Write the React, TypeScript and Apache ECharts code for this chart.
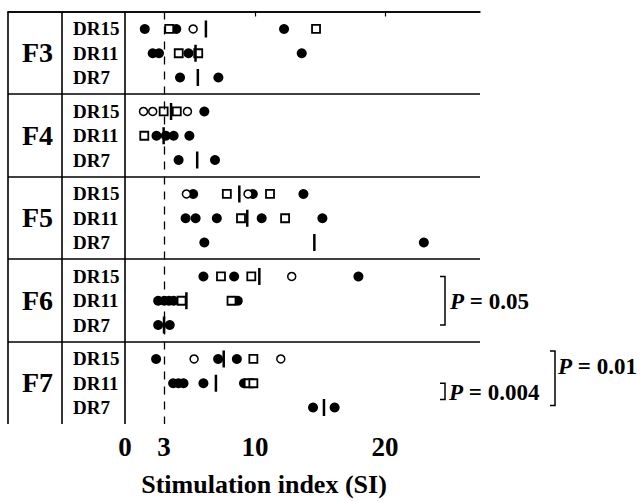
import React, { useEffect, useRef } from "react";
import * as echarts from "echarts";

const panels = ["F3", "F4", "F5", "F6", "F7"];
const rows = ["DR15", "DR11", "DR7"];
const tickLabels = [0, 3, 10, 20];
const minorTicks = [10, 20];
const threshold = 3;
const axisTitle = "Stimulation index (SI)";

// per panel: values for rows [DR15, DR11, DR7]
const filledCircles: Record<string, number[][]> = {
  F3: [[1.52, 3.94, 12.23], [2.13, 2.61, 4.88, 13.59], [4.23, 7.18]],
  F4: [[6.1], [2.42, 3.14, 3.74, 4.95], [4.12, 6.92]],
  F5: [[5.24, 9.83, 13.72], [4.66, 5.43, 7.06, 10.51, 15.18], [6.1, 22.98]],
  F6: [[6.03, 8.39, 17.95], [2.55, 3.02, 3.38, 3.74, 8.67], [2.55, 3.44]],
  F7: [[2.39, 7.16, 8.6], [3.7, 4.11, 4.5, 6.03, 9.15], [14.46, 16.12]],
};
const openSquares: Record<string, number[][]> = {
  F3: [[3.4, 14.69], [4.13, 5.63], []],
  F4: [[2.97, 3.98], [1.48], []],
  F5: [[7.83, 11.15], [8.92, 12.31], []],
  F6: [[7.38, 9.71], [4.35, 8.19], []],
  F7: [[9.87], [9.51, 9.87], []],
};
const openCircles: Record<string, number[][]> = {
  F3: [[5.24], [], []],
  F4: [[1.42, 2.13, 4.8], [], []],
  F5: [[4.72, 9.46], [], []],
  F6: [[12.82], [], []],
  F7: [[5.31, 11.98], [], []],
};
const medians: Record<string, number[]> = {
  F3: [6.22, 5.42, 5.6],
  F4: [3.54, 2.97, 5.55],
  F5: [8.79, 9.4, 14.56],
  F6: [10.33, 4.72, 3.0],
  F7: [7.59, 6.99, 15.3],
};
const pTests = [
  { panel: "F6", text: "0.05" },
  { panel: "F7", text: "0.004" },
  { panel: "F7", text: "0.01" },
];

const FONT = "'Liberation Serif', 'Times New Roman', serif";
const X_MIN = -9;
const X_MAX = 27.3;
const PANEL_H = 3.4;
const ROW_OFF = 0.72;
const rowY = (p: number, r: number) => p * PANEL_H + ROW_OFF + r;

function points(src: Record<string, number[][]>) {
  const out: number[][] = [];
  panels.forEach((p, pi) =>
    src[p].forEach((vals, ri) => vals.forEach((v) => out.push([v, rowY(pi, ri)])))
  );
  return out;
}

export default function App() {
  const ref = useRef<HTMLDivElement>(null);
  useEffect(() => {
    document.body.style.margin = "0";
    const chart = echarts.init(ref.current!, null, { renderer: "svg" });
    const lineStyle = { color: "#000", width: 1.6, type: "solid" as const, opacity: 1 };
    const structure: any[] = [
      { xAxis: X_MIN },
      { xAxis: -4.85 },
      { xAxis: 0 },
      { yAxis: 0 },
    ];
    for (let i = 1; i < panels.length; i++) structure.push({ yAxis: i * PANEL_H });

    const fLabels = panels.map((p, pi) => ({ value: [-6.73, pi * PANEL_H + PANEL_H / 2], name: p }));
    const rLabels: any[] = [];
    panels.forEach((_, pi) =>
      rows.forEach((r, ri) => rLabels.push({ value: [-4.0, rowY(pi, ri)], name: r }))
    );
    const medPts: number[][] = [];
    panels.forEach((p, pi) => medians[p].forEach((v, ri) => medPts.push([v, rowY(pi, ri)])));

    const labelBase = {
      show: true,
      formatter: "{b}",
      color: "#000",
      opacity: 1,
      fontFamily: FONT,
      fontWeight: "bold",
    };

    chart.setOption({
      animation: false,
      backgroundColor: "#fff",
      grid: { left: 8, top: 11.5, width: 472, height: 412.5 },
      xAxis: {
        type: "value",
        min: X_MIN,
        max: X_MAX,
        axisLine: { show: true, lineStyle: { color: "#000", width: 1.6 } },
        splitLine: { show: false },
        axisTick: { show: true, customValues: minorTicks, length: 5, lineStyle: { color: "#000", width: 1.2 } },
        axisLabel: {
          customValues: tickLabels,
          color: "#000",
          fontFamily: FONT,
          fontWeight: "bold",
          fontSize: 27,
          margin: 9,
        },
      },
      yAxis: { type: "value", min: 0, max: panels.length * PANEL_H, inverse: true, show: false },
      series: [
        {
          type: "scatter",
          data: [],
          silent: true,
          clip: false,
          markLine: {
            silent: true,
            symbol: "none",
            label: { show: false },
            lineStyle,
            data: [
              ...structure,
              { xAxis: threshold, lineStyle: { color: "#000", width: 1.3, type: [8, 7], opacity: 1 } },
            ],
          },
        },
        {
          type: "scatter",
          data: fLabels,
          symbolSize: 0,
          silent: true,
          itemStyle: { opacity: 1 },
          label: { ...labelBase, position: "inside", fontSize: 28 },
        },
        {
          type: "scatter",
          data: rLabels,
          symbolSize: 0,
          silent: true,
          itemStyle: { opacity: 1 },
          label: { ...labelBase, position: "right", distance: 0, fontSize: 19 },
        },
        {
          type: "scatter",
          data: points(filledCircles),
          symbol: "circle",
          symbolSize: 10,
          itemStyle: { color: "#000", opacity: 1 },
        },
        {
          type: "scatter",
          data: points(openSquares),
          symbol: "rect",
          symbolSize: 8,
          itemStyle: { color: "#fff", borderColor: "#000", borderWidth: 1.8, opacity: 1 },
        },
        {
          type: "scatter",
          data: points(openCircles),
          symbol: "circle",
          symbolSize: 8,
          itemStyle: { color: "#fff", borderColor: "#000", borderWidth: 1.5, opacity: 1 },
        },
        {
          type: "scatter",
          data: medPts,
          symbol: "rect",
          symbolSize: [2.5, 17],
          itemStyle: { color: "#000", opacity: 1 },
        },
      ],
    });

    const py = (y: number) => (chart.convertToPixel({ gridIndex: 0 }, [0, y]) as number[])[1];
    const pIdx = (name: string) => panels.indexOf(name);
    const textStyle = (txt: string, x: number, y: number) => ({
      type: "text",
      x,
      y,
      style: {
        text: "{i|P} = " + txt,
        fill: "#000",
        fontFamily: FONT,
        fontWeight: "bold",
        fontSize: 23,
        verticalAlign: "middle",
        rich: { i: { fontStyle: "italic", fontWeight: "bold", fontFamily: FONT, fontSize: 23, fill: "#000" } },
      },
    });
    const bracket = (x: number, y1: number, y2: number) => ({
      type: "polyline",
      shape: { points: [[x - 5, y1], [x, y1], [x, y2], [x - 5, y2]] },
      style: { stroke: "#000", lineWidth: 1.5, fill: "none" },
    });
    const b1 = pIdx(pTests[0].panel);
    const b2 = pIdx(pTests[1].panel);
    const b3 = pIdx(pTests[2].panel);
    const g: any[] = [
      bracket(445, py(rowY(b1, 0)), py(rowY(b1, 2))),
      textStyle(pTests[0].text, 450, py(rowY(b1, 1)) + 1),
      bracket(445, py(rowY(b2, 1)), py(rowY(b2, 2)) - 8),
      textStyle(pTests[1].text, 449, (py(rowY(b2, 1)) + py(rowY(b2, 2)) - 8) / 2 + 1),
      bracket(555, py(rowY(b3, 0)) - 8, py(rowY(b3, 2)) - 2),
      textStyle(pTests[2].text, 558, py(rowY(b3, 0)) + 8),
      {
        type: "text",
        x: 264,
        y: 484,
        style: {
          text: axisTitle,
          fill: "#000",
          fontFamily: FONT,
          fontWeight: "bold",
          fontSize: 26,
          align: "center",
          verticalAlign: "middle",
        },
      },
    ];
    chart.setOption({ graphic: g });
    return () => chart.dispose();
  }, []);
  return <div ref={ref} style={{ width: 642, height: 502 }} />;
}
